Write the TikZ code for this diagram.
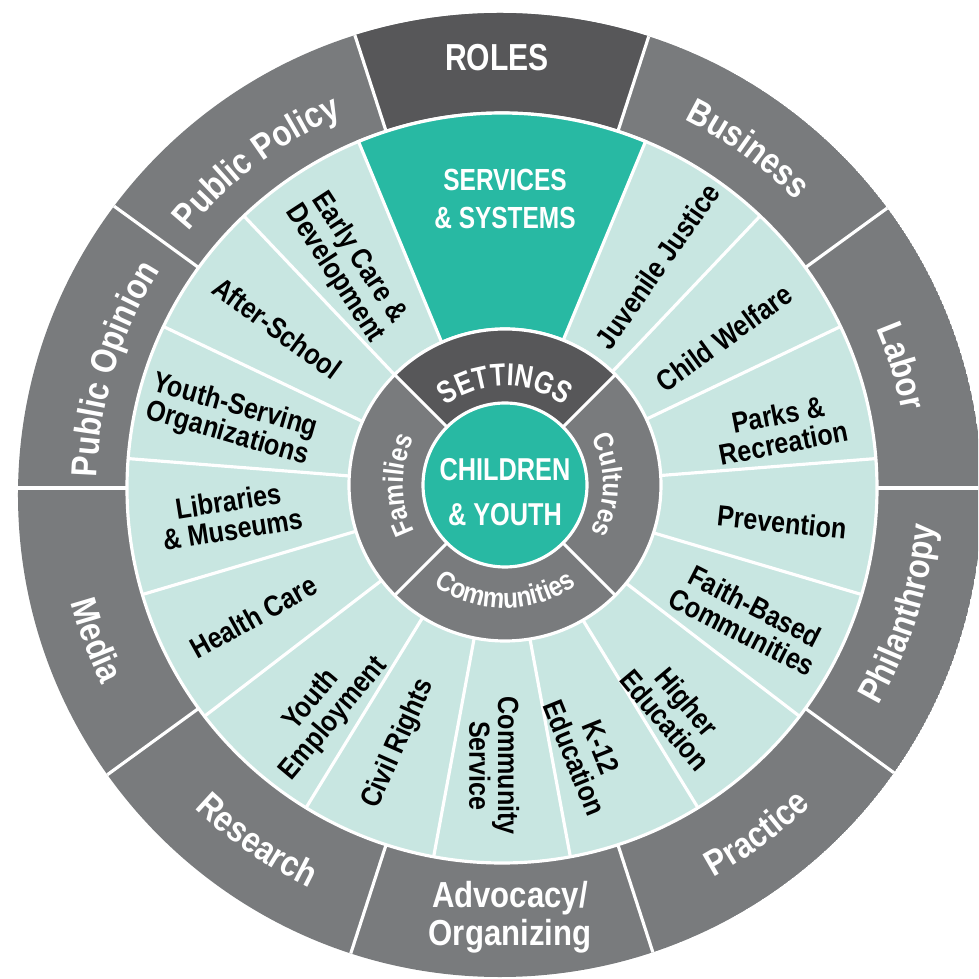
\documentclass[tikz,border=0pt]{standalone}
\usepackage{fontspec}
\setmainfont{Liberation Sans}
\newfontfamily\wheelfont{Liberation Sans}[FakeStretch=0.86]
\newfontfamily\capsfont{Liberation Sans}[FakeStretch=0.8]
\usetikzlibrary{decorations.text}

\definecolor{ringgray}{RGB}{121,123,125}
\definecolor{rolegray}{RGB}{87,87,89}
\definecolor{paleteal}{RGB}{200,230,225}
\definecolor{wheelteal}{RGB}{40,185,163}

\newcommand{\outerfont}{\wheelfont\bfseries\fontsize{10.3}{10.8}\selectfont}
\newcommand{\innerfont}{\wheelfont\bfseries\fontsize{8}{9}\selectfont}
\newcommand{\settingsfont}{\capsfont\bfseries\fontsize{9}{10}\selectfont}

% Text auf Kreisbogen: Radius, Startwinkel, Endwinkel, Schrift, Text
\newcommand{\arclabel}[5]{%
  \path[decorate, decoration={text along path, text align=center,
    text color=white, text={|#4|#5}}]
    (#2:#1) arc[start angle=#2, end angle=#3, radius=#1];}

\tikzset{
  sep/.style={draw=white, line width=0.9pt},
  item/.style={font=\wheelfont\bfseries\fontsize{8.3}{8.2}\selectfont, align=center, inner sep=0pt},
  outerlabel/.style={font=\outerfont, text=white, align=center, inner sep=0pt},
  caplabel/.style={font=\capsfont\bfseries\fontsize{8.7}{10.8}\selectfont, text=white, align=center, inner sep=0pt},
}

\begin{document}
\begin{tikzpicture}
  \clip (-5.02,-4.91) rectangle (4.76,4.88);
  \fill[white] (-5.02,-4.91) rectangle (4.76,4.88);
  %Aeusserer Ring
  \begin{scope}
    \clip (-0.02,-0.07) circle (4.82);
    \fill[ringgray] (-0.02,-0.07) circle (4.82);
    \fill[rolegray] (0,0) -- (72:5.2) arc[start angle=72, end angle=108, radius=5.2] -- cycle;
    \draw[sep] (0,0) -- (0:5.2);
    \draw[sep] (0,0) -- (36:5.2);
    \draw[sep] (0,0) -- (72:5.2);
    \draw[sep] (0,0) -- (108:5.2);
    \draw[sep] (0,0) -- (144:5.2);
    \draw[sep] (0,0) -- (180:5.2);
    \draw[sep] (0,0) -- (216:5.2);
    \draw[sep] (0,0) -- (252:5.2);
    \draw[sep] (0,0) -- (288:5.2);
    \draw[sep] (0,0) -- (324:5.2);
  \end{scope}
  %Mittlerer Ring
  \draw[sep, fill=paleteal] (0,0) circle (3.75);
  \draw[sep, fill=wheelteal] (0,0) -- (67.5:3.75) arc[start angle=67.5, end angle=112.5, radius=3.75] -- cycle;
    \draw[sep] (0,0) -- (46.5:3.75);
    \draw[sep] (0,0) -- (25.5:3.75);
    \draw[sep] (0,0) -- (4.5:3.75);
    \draw[sep] (0,0) -- (-16.5:3.75);
    \draw[sep] (0,0) -- (-37.5:3.75);
    \draw[sep] (0,0) -- (-58.5:3.75);
    \draw[sep] (0,0) -- (-79.5:3.75);
    \draw[sep] (0,0) -- (-100.5:3.75);
    \draw[sep] (0,0) -- (-121.5:3.75);
    \draw[sep] (0,0) -- (-142.5:3.75);
    \draw[sep] (0,0) -- (-163.5:3.75);
    \draw[sep] (0,0) -- (175.5:3.75);
    \draw[sep] (0,0) -- (154.5:3.75);
    \draw[sep] (0,0) -- (133.5:3.75);
  %Innerer Ring
  \begin{scope}[shift={(0.03,0.03)}]
    \draw[sep, fill=ringgray] (0,0) circle (1.56);
    \draw[sep, fill=rolegray] (0,0) -- (45:1.56) arc[start angle=45, end angle=135, radius=1.56] -- cycle;
    \draw[sep] (0,0) -- (225:1.56);
    \draw[sep] (0,0) -- (315:1.56);
    \draw[sep, fill=wheelteal] (0,0) circle (0.82);
    \node[caplabel, font=\capsfont\bfseries\fontsize{9}{12.8}\selectfont] (children) at (0,-0.07) {CHILDREN\\\& YOUTH};
    \arclabel{0.99}{150}{30}{\settingsfont}{SETTINGS}
    \arclabel{0.98}{60}{-60}{\innerfont}{Cultures}
    \arclabel{1.02}{240}{120}{\innerfont}{Families}
    \arclabel{1.23}{210}{330}{\innerfont}{Communities}
  \end{scope}
  %Beschriftung Rollen
  \node[caplabel, font=\capsfont\bfseries\fontsize{10.7}{12}\selectfont] (roles) at (-0.05,4.30) {ROLES};
  \arclabel{4.11}{94}{14}{\outerfont}{Business}
  \arclabel{4.07}{57}{-23}{\outerfont}{Labor}
  \arclabel{4.35}{-57.5}{22.5}{\outerfont}{Philanthropy}
  \arclabel{4.43}{-93.6}{-13.6}{\outerfont}{Practice}
  \node[outerlabel] (advocacy) at (0.08,-4.29) {Advocacy/\\Organizing};
  \arclabel{4.44}{-164.8}{-84.8}{\outerfont}{Research}
  \arclabel{4.46}{-199.4}{-119.4}{\outerfont}{Media}
  \arclabel{4.05}{203}{123}{\outerfont}{Public Opinion}
  \arclabel{4.05}{167}{87}{\outerfont}{Public Policy}
  %Beschriftung Settings
  \node[caplabel] (services) at (0.03,2.89) {SERVICES\\\& SYSTEMS};
  \node[item, rotate=55] (justice) at (55:2.71) {Juvenile Justice};
  \node[item, rotate=36] (welfare) at (34:2.68) {Child Welfare};
  \node[item, rotate=11] (parks) at (12:2.85) {Parks \&\\Recreation};
  \node[item, rotate=-6] (prevention) at (-7:2.82) {Prevention};
  \node[item, rotate=-27] (faith) at (-28:2.79) {Faith-Based\\Communities};
  \node[item, rotate=-50] (higher) at (-52:2.83) {Higher\\Education};
  \node[item, rotate=-68] (school) at (-72:2.78) {K-12\\Education};
  \node[item, rotate=-90] (service) at (-91.6:2.78) {Community\\Service};
  \node[item, rotate=66] (rights) at (-112:2.76) {Civil Rights};
  \node[item, rotate=50] (employment) at (-129:2.85) {Youth\\Employment};
  \node[item, rotate=29] (health) at (-152.6:2.80) {Health Care};
  \node[item, rotate=9] (libraries) at (185.7:2.73) {Libraries\\\& Museums};
  \node[item, rotate=-16] (youthorgs) at (166:2.79) {Youth-Serving\\Organizations};
  \node[item, rotate=-36] (afterschool) at (144.6:2.76) {After-School};
  \node[item, rotate=-57] (earlycare) at (125:2.71) {Early Care \&\\Development};
\end{tikzpicture}
\end{document}
